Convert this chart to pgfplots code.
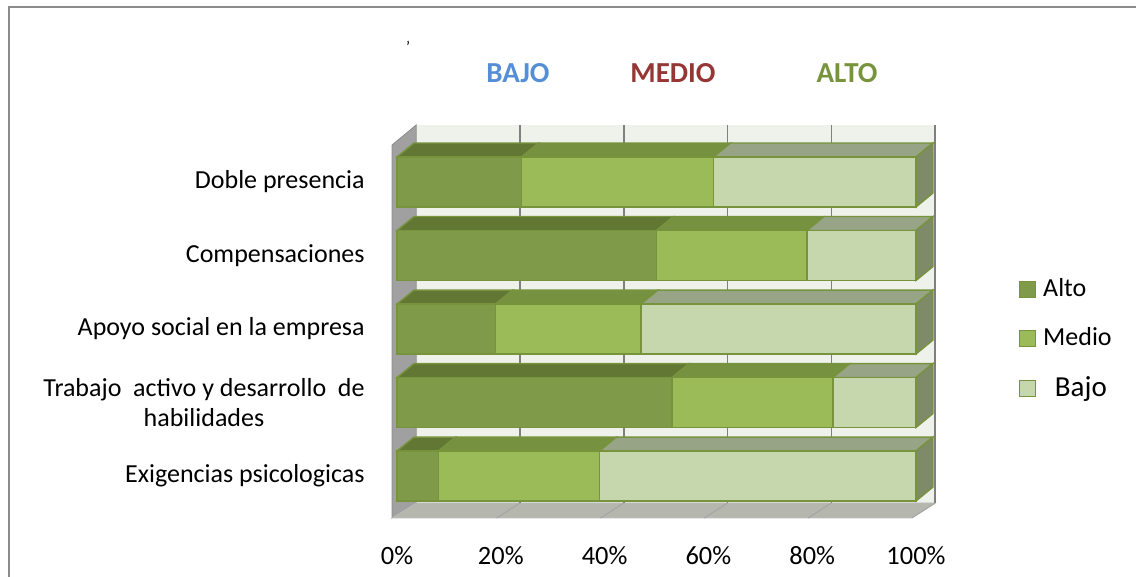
\documentclass[border=0pt]{standalone}
\usepackage{pgfplots}
\pgfplotsset{compat=1.18}
\usepackage{pgfplotstable}
\usepackage{fontspec}
\setmainfont{Carlito}

\definecolor{altoF}{HTML}{7F9A48}
\definecolor{altoT}{HTML}{617733}
\definecolor{medioF}{HTML}{9BBB59}
\definecolor{medioT}{HTML}{76913F}
\definecolor{bajoF}{HTML}{C7D7AD}
\definecolor{bajoT}{HTML}{98A486}
\definecolor{sideF}{HTML}{7F8A69}
\definecolor{edge}{HTML}{77933C}
\definecolor{bwall}{HTML}{EFF1EB}
\definecolor{lwall}{HTML}{A0A0A0}
\definecolor{floorC}{HTML}{B5B7AF}
\definecolor{wedge}{HTML}{8C8C8C}
\definecolor{gridC}{HTML}{7F7F7F}
\definecolor{tBajo}{HTML}{558ED5}
\definecolor{tMedio}{HTML}{953735}
\definecolor{tAlto}{HTML}{77933C}

\pgfplotstableread{
pos alto medio bajo
0 8 31 61
1 53 31 16
2 19 28 53
3 50 29 21
4 24 37 39
}\data

\pgfplotsset{geom/.style={
  at={(198.5pt,29.5pt)}, anchor=south west,
  scale only axis, width=259.5pt, height=197.4pt,
  xmin=0, xmax=100, ymin=-0.571, ymax=4.8,
  clip=false}}

\begin{document}
\begin{tikzpicture}
\useasboundingbox (0,0) rectangle (568pt,288.5pt);
\draw[wedge, line width=1pt] (4.5pt,0) -- (4.5pt,285pt) -- (568pt,285pt);
\node[font=\bfseries\fontsize{14.5}{17}\selectfont, text=tBajo] at (259pt,252pt) {BAJO};
\node[font=\bfseries\fontsize{14.5}{17}\selectfont, text=tMedio] at (336.5pt,252pt) {MEDIO};
\node[font=\bfseries\fontsize{14.5}{17}\selectfont, text=tAlto] at (423.5pt,252pt) {ALTO};
\node[font=\fontsize{8}{9}\selectfont, inner sep=0pt] at (204pt,265pt) {'};

% background axis: walls, floor, grid, 3D faces, tick labels
\begin{axis}[geom,
  axis line style={draw=none},
  major tick length=0pt,
  /pgf/number format/assume math mode=true,
  xtick={0,20,...,100},
  xticklabel={\pgfmathprintnumber{\tick}\%},
  xticklabel style={anchor=base, yshift=-23.5pt, inner sep=0pt, font=\fontsize{13.2}{15}\selectfont},
  ytick={0,1,2,3,4},
  yticklabels={Exigencias psicologicas, {Trabajo\ \ activo y desarrollo\ \ de\\habilidades}, Apoyo social en la empresa, Compensaciones, Doble presencia},
  yticklabel style={align=center, anchor=east, inner sep=0pt, xshift=-16pt, font=\fontsize{13}{15}\selectfont},
]
\addplot[fill=bwall, draw=none, forget plot] coordinates {(3.7,-0.367) (103.7,-0.367) (103.7,4.776) (3.7,4.776)} -- cycle;
\addplot[fill=lwall, draw=wedge, line width=0.4pt, forget plot] coordinates {(-0.96,4.503) (3.7,4.776) (3.7,-0.367) (-0.96,-0.571)} -- cycle;
\addplot[fill=floorC, draw=wedge!60, line width=0.4pt, forget plot] coordinates {(-0.96,-0.571) (99.2,-0.571) (103.7,-0.367) (3.7,-0.367)} -- cycle;
\pgfplotsinvokeforeach{20,40,60,80,100}{
  \pgfmathsetmacro\gx{#1+3.7}
  \pgfmathsetmacro\fx{#1-0.8}
  \edef\temp{\noexpand\addplot[gridC, line width=0.8pt, forget plot] coordinates {(\gx,-0.367) (\gx,4.776)};
    \noexpand\addplot[gridC!70, line width=0.5pt, forget plot] coordinates {(\fx,-0.571) (\gx,-0.367)};}
  \temp
}
\pgfplotsinvokeforeach{0,...,4}{
  \pgfplotstablegetelem{#1}{alto}\of\data \pgfmathsetmacro\myEa{\pgfplotsretval}
  \pgfplotstablegetelem{#1}{medio}\of\data \pgfmathsetmacro\myEb{\myEa+\pgfplotsretval}
  \pgfmathsetmacro\myEaD{\myEa+3.27}
  \pgfmathsetmacro\myEbD{\myEb+3.27}
  \pgfmathsetmacro\myT{#1+0.34}
  \pgfmathsetmacro\myTT{#1+0.53}
  \pgfmathsetmacro\myB{#1-0.34}
  \pgfmathsetmacro\myBB{#1-0.15}
  \edef\temp{%
   \noexpand\addplot[fill=altoT, draw=edge, line width=0.7pt, forget plot] coordinates {(0,\myT) (\myEa,\myT) (\myEaD,\myTT) (3.27,\myTT)} -- cycle;
   \noexpand\addplot[fill=medioT, draw=edge, line width=0.7pt, forget plot] coordinates {(\myEa,\myT) (\myEb,\myT) (\myEbD,\myTT) (\myEaD,\myTT)} -- cycle;
   \noexpand\addplot[fill=bajoT, draw=edge, line width=0.7pt, forget plot] coordinates {(\myEb,\myT) (100,\myT) (103.27,\myTT) (\myEbD,\myTT)} -- cycle;
   \noexpand\addplot[fill=sideF, draw=edge, line width=0.7pt, forget plot] coordinates {(100,\myB) (100,\myT) (103.27,\myTT) (103.27,\myBB)} -- cycle;
  }
  \temp
}
\end{axis}

% front faces: stacked bars
\begin{axis}[geom, hide axis,
  xbar stacked, bar width=0.68,
  legend style={at={(1.1977,0.615)}, anchor=north west, draw=none, fill=none,
    font=\fontsize{13}{15}\selectfont, row sep=11pt, column sep=2pt, inner sep=0pt, nodes={inner sep=1.5pt}},
  legend cell align=left,
  legend image code/.code={\draw[#1, line width=0.6pt] (0pt,-4pt) rectangle (8pt,4pt);},
]
\addplot[fill=altoF, draw=edge, line width=0.7pt] table[x=alto, y=pos]{\data};
\addplot[fill=medioF, draw=edge, line width=0.7pt] table[x=medio, y=pos]{\data};
\addplot[fill=bajoF, draw=edge, line width=0.7pt] table[x=bajo, y=pos]{\data};
\legend{Alto, Medio, {\ \ \fontsize{14.5}{16}\selectfont Bajo}}
\end{axis}
\end{tikzpicture}
\end{document}
